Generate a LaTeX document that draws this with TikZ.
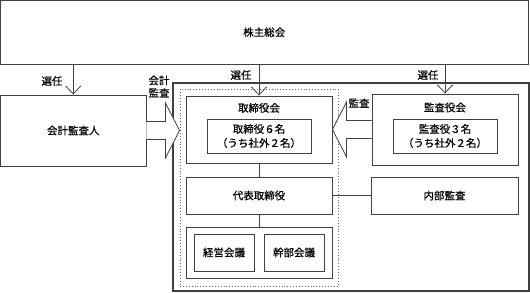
\documentclass[tikz,border=0pt]{standalone}
\usepackage{fontspec}
\setmainfont{Noto Sans CJK JP}[FakeBold=0.6]
\usetikzlibrary{calc,arrows.meta}

\tikzset{
  box/.style={draw=black!75,line width=0.9pt,rectangle,inner sep=0pt,fill=white},
  sel/.style={draw=black!75,line width=0.8pt,-{Straight Barb[length=8pt,width=15pt,line width=0.8pt]}},
  blk/.style={draw=black!75,line width=0.8pt,fill=white,line join=miter}
}

\begin{document}
\begin{tikzpicture}[x=1pt,y=-1pt,font=\fontsize{10.5}{14}\selectfont]
  \useasboundingbox (0,0) rectangle (530,292);
  \node[box,minimum width=527.5pt,minimum height=63.5pt] (soukai) at (264.25,32.25) {株主総会};
  \node[box,minimum width=145.5pt,minimum height=71pt] (kaikei) at (73.25,130.5) {会計監査人};
  \node[box,minimum width=356pt,minimum height=208pt,line width=1.1pt] (waku) at (351,187) {};
  \node[draw=black!60,dotted,line width=0.9pt,rectangle,minimum width=158pt,minimum height=197pt] (tenken) at (259,187.5) {};

  \node[box,minimum width=146pt,minimum height=67pt,label={[below=4pt]north:取締役会}] (torikai) at (259,129.5) {};
  \node[box,minimum width=104pt,minimum height=34pt,align=center] (torimei) at (259,136) {取締役６名\\（うち社外２名）};
  \node[box,minimum width=146pt,minimum height=71pt,label={[below=5.5pt]north:監査役会}] (kansakai) at (445,129.5) {};
  \node[box,minimum width=104pt,minimum height=34pt,align=center] (kansamei) at (445,136) {監査役３名\\（うち社外２名）};
  \node[box,minimum width=146pt,minimum height=37pt] (daihyo) at (259,195.5) {代表取締役};
  \node[box,minimum width=147pt,minimum height=37pt] (naibu) at (444.5,195.5) {内部監査};
  \node[box,minimum width=146pt,minimum height=51pt] (kaigi) at (259,252.5) {};
  \node[box,minimum width=60pt,minimum height=37pt] (keiei) at (224,252.5) {経営会議};
  \node[box,minimum width=60pt,minimum height=37pt] (kanbu) at (294,252.5) {幹部会議};

  \node (sen1) at (52,81) {選任};
  \node (sen2) at (241,75) {選任};
  \node (sen3) at (428,75) {選任};
  \node[align=center,inner sep=0pt] (kkansa) at (159,86.5) {会計\\[-1.5pt]監査};
  \node[inner sep=0pt] (kansa) at (359,103) {監査};

  \draw[sel] (kaikei.north |- soukai.south) -- (kaikei.north);
  \draw[sel] (torikai.north |- soukai.south) -- (torikai.north);
  \draw[sel] (kansakai.north |- soukai.south) -- (kansakai.north);

  % block arrows
  \draw[blk] ($(kaikei.east)+(0,-9)$) -- ++(19,0) -- ++(0,-18.5) -- (kaikei.east -| tenken.west)
    -- ($(kaikei.east)+(19,27.5)$) -- ++(0,-18.5) -- ($(kaikei.east)+(0,9)$);
  \draw[blk] ($(kansakai.west)+(0,-9)$) -- ++(-25,0) -- ++(0,-18.5) -- (kansakai.west -| torikai.east)
    -- ($(kansakai.west)+(-25,27.5)$) -- ++(0,-18.5) -- ($(kansakai.west)+(0,9)$);

  \draw[draw=black!75,line width=0.8pt] (torikai.south) -- (daihyo.north)
    (daihyo.south) -- (kaigi.north) (daihyo.east) -- (naibu.west);
\end{tikzpicture}
\end{document}
